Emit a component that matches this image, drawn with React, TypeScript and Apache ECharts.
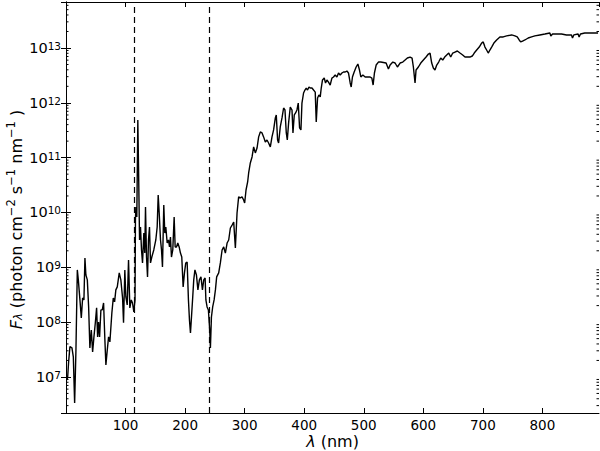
import React, { useEffect, useRef } from 'react';
import * as echarts from 'echarts';

// Wavelength (nm)
const wavelength = [
  1.6, 2.8, 4.4, 6.6, 10.0, 12.3, 14.5, 16.7, 19.0, 20.7, 23.4, 25.7, 27.9, 30.1, 31.8, 33.4, 35.8, 38.0, 40.1, 42.5,
  44.7, 46.9, 49.2, 51.4, 53.1, 54.7, 56.4, 58.6, 60.9, 63.1, 65.3, 67.0, 69.3, 71.5, 73.7, 77.0, 79.4, 81.6, 83.7, 86.1,
  89.4, 92.1, 95.0, 96.6, 98.8, 100.5, 102.8, 105.0, 107.2, 109.6, 111.7, 113.9, 115.9, 116.6, 117.3, 118.9, 120.6, 121.8, 123.5, 125.1,
  126.8, 128.5, 130.7, 132.3, 133.5, 135.2, 136.9, 138.5, 140.2, 141.9, 144.1, 147.4, 150.8, 153.1, 154.8, 156.5, 158.7, 160.4, 162.0, 164.2,
  165.9, 167.6, 169.9, 172.1, 173.8, 175.4, 177.1, 179.3, 181.6, 183.3, 185.5, 187.7, 190.0, 192.2, 194.4, 196.7, 198.9, 201.1, 203.4, 205.6,
  207.3, 209.0, 210.6, 212.8, 214.5, 216.5, 219.0, 221.5, 224.0, 226.6, 229.1, 231.3, 233.6, 234.9, 236.9, 239.1, 241.3, 242.5, 244.2, 246.3,
  248.7, 250.9, 253.0, 256.4, 259.2, 262.1, 264.8, 267.6, 270.5, 273.2, 276.0, 278.9, 281.6, 284.4, 287.2, 289.9, 292.8, 295.6, 298.3, 300.0,
  302.3, 305.0, 306.7, 309.5, 312.4, 315.1, 317.9, 320.8, 323.5, 326.3, 329.2, 331.8, 334.7, 337.5, 340.2, 343.1, 345.9, 348.6, 351.5, 353.1,
  355.3, 357.0, 359.8, 362.7, 365.4, 367.7, 369.9, 371.6, 373.8, 376.6, 379.5, 381.1, 383.3, 385.5, 387.8, 390.0, 392.2, 394.5, 396.2, 398.9,
  401.2, 403.4, 405.6, 408.0, 410.1, 413.0, 415.7, 418.5, 420.2, 422.4, 424.7, 426.9, 428.6, 430.7, 433.6, 435.8, 438.1, 440.8, 443.6, 446.5,
  449.2, 452.0, 454.9, 457.6, 460.4, 463.3, 466.0, 468.8, 471.7, 474.3, 477.2, 478.9, 481.0, 483.9, 487.2, 490.1, 492.8, 495.1, 498.5, 502.3,
  506.2, 510.7, 513.6, 515.7, 517.9, 520.8, 524.6, 528.6, 533.0, 537.5, 541.4, 544.2, 548.8, 552.6, 556.5, 561.0, 565.5, 569.4, 573.2, 577.8,
  581.1, 583.3, 586.1, 587.8, 591.7, 595.7, 600.1, 604.6, 608.5, 611.3, 614.1, 616.8, 619.6, 622.5, 625.8, 629.2, 632.6, 635.9, 639.3, 642.7,
  646.0, 649.4, 653.2, 657.1, 661.6, 666.1, 670.0, 673.8, 678.3, 682.2, 685.5, 689.6, 693.9, 697.9, 700.6, 703.5, 706.3, 709.0, 711.8, 714.7,
  718.5, 723.1, 728.6, 734.2, 739.9, 748.3, 753.8, 757.7, 761.0, 763.4, 766.7, 770.6, 776.1, 781.8, 787.3, 795.7, 804.1, 812.5, 814.1, 817.0,
  823.7, 832.1, 840.4, 848.8, 850.5, 852.7, 859.9, 861.6, 863.9, 871.1, 879.5, 887.9, 893.4,
];

// Flux F_lambda (photon cm^-2 s^-1 nm^-1)
const flux = [
  8.8e6, 1.0e7, 1.88e7, 3.57e7, 3.38e7, 2.32e7, 3.36e6, 3.1e7, 8.95e8, 5.9e8, 2.54e8, 1.19e8, 2.76e8, 2.54e8, 1.48e9, 7.26e8, 5.9e8, 1.89e8, 3.38e7, 7.2e7,
  2.86e7, 5.37e7, 9.66e7, 1.82e8, 5.37e7, 1.0e8, 5.37e7, 1.67e8, 1.67e8, 2.24e8, 4.73e7, 1.66e7, 3.1e7, 5.37e7, 4.35e7, 1.47e8, 2.76e8, 2.34e8, 3.87e8, 4.39e8,
  7.89e8, 5.9e8, 2.76e8, 9.7e7, 8.95e8, 2.88e8, 2.06e8, 1.36e9, 1.82e8, 2.54e8, 2.24e8, 1.53e8, 2.54e8, 7.3e9, 1.26e10, 8.27e9, 4.87e11, 6.76e10, 3.15e9, 5.43e9,
  2.07e9, 1.2e9, 4.22e9, 1.82e9, 1.26e10, 1.54e9, 6.67e8, 3.15e9, 5.43e9, 1.2e9, 1.54e9, 2.07e9, 3.15e9, 5.43e9, 2.08e10, 9.78e9, 3.15e9, 2.07e9, 1.01e9, 1.37e10,
  4.22e9, 5.43e9, 2.77e9, 3.15e9, 2.35e9, 3.57e9, 1.54e9, 2.07e9, 8.27e9, 2.35e9, 2.35e9, 2.77e9, 2.35e9, 1.82e9, 1.54e9, 4.39e8, 7.89e8, 1.2e9, 1.25e9, 2.54e8,
  1.1e8, 6.35e7, 1.19e8, 2.88e8, 5.9e8, 8.95e8, 7.26e8, 3.87e8, 5.9e8, 6.67e8, 3.87e8, 5.9e8, 6.4e8, 2.54e8, 1.89e8, 1.67e8, 7.2e7, 3.38e7, 1.24e8, 1.89e8,
  2.54e8, 3.87e8, 6.67e8, 7.89e8, 1.2e9, 2.07e9, 2.35e9, 1.82e9, 2.77e9, 3.15e9, 5.21e9, 5.9e9, 6.7e9, 2.25e9, 9.78e9, 1.92e10, 1.84e10, 1.92e10, 1.69e10, 1.49e10,
  2.57e10, 3.6e10, 5.25e10, 8.0e10, 1.03e11, 1.57e11, 1.22e11, 1.5e11, 2.39e11, 2.94e11, 2.82e11, 2.39e11, 1.93e11, 2.1e11, 1.85e11, 1.57e11, 2.39e11, 3.2e11, 5.3e11, 6.01e11,
  2.1e11, 1.85e11, 3.63e11, 5.3e11, 8.04e11, 7.4e11, 2.82e11, 2.1e11, 4.3e11, 8.39e11, 7.4e11, 2.82e11, 6.01e11, 6.53e11, 7.4e11, 9.9e11, 3.48e11, 3.2e11, 9.9e11, 1.51e12,
  1.71e12, 1.86e12, 1.71e12, 1.94e12, 1.86e12, 1.86e12, 1.71e12, 1.57e12, 4.48e11, 1.22e12, 1.39e12, 1.28e12, 1.86e12, 2.61e12, 2.83e12, 2.3e12, 2.61e12, 2.39e12, 2.11e12, 2.83e12,
  2.96e12, 3.21e12, 2.96e12, 3.5e12, 3.21e12, 3.5e12, 3.65e12, 3.65e12, 3.8e12, 3.5e12, 2.3e12, 1.94e12, 2.96e12, 3.65e12, 4.5e12, 5.1e12, 3.96e12, 2.96e12, 3.21e12, 2.96e12,
  2.96e12, 2.96e12, 2.83e12, 2.11e12, 3.5e12, 4.89e12, 5.54e12, 5.54e12, 5.43e12, 5.32e12, 4.13e12, 4.89e12, 5.54e12, 5.32e12, 4.5e12, 5.32e12, 5.54e12, 6.04e12, 6.56e12, 6.84e12,
  6.56e12, 4.5e12, 2.3e12, 3.96e12, 4.5e12, 5.32e12, 6.04e12, 6.84e12, 7.76e12, 8.09e12, 5.32e12, 4.32e12, 3.96e12, 4.89e12, 5.54e12, 6.56e12, 6.04e12, 6.84e12, 7.45e12, 8.09e12,
  6.84e12, 8.09e12, 8.44e12, 8.81e12, 8.09e12, 7.45e12, 6.84e12, 6.84e12, 6.84e12, 7.14e12, 8.09e12, 9.18e12, 1.04e13, 1.23e13, 1.29e13, 1.04e13, 9.18e12, 8.09e12, 9.18e12, 1.04e13,
  1.23e13, 1.4e13, 1.59e13, 1.59e13, 1.66e13, 1.73e13, 1.66e13, 1.59e13, 1.4e13, 1.29e13, 1.34e13, 1.4e13, 1.52e13, 1.59e13, 1.66e13, 1.73e13, 1.8e13, 1.88e13, 1.66e13, 1.8e13,
  1.8e13, 1.8e13, 1.73e13, 1.73e13, 1.52e13, 1.73e13, 1.8e13, 1.59e13, 1.8e13, 1.88e13, 1.88e13, 1.88e13, 1.88e13,
];

// Vertical dashed marker lines (nm)
const markerWavelengths = [115, 240];

const X_MIN = 0;
const X_MAX = 895;
const X_INTERVAL = 100;
const Y_MIN = 2.2e6;
const Y_MAX = 6.9e13;

const FONT = 'DejaVu Sans';

export default function App() {
  const ref = useRef<HTMLDivElement>(null);

  useEffect(() => {
    document.body.style.margin = '0';
    if (!ref.current) return;
    const chart = echarts.init(ref.current, undefined, { renderer: 'svg' });

    const lineData = wavelength.map((w, i) => [w, flux[i]]);

    // log-scale minor tick positions (2..9 x 10^n)
    const minorVals: number[][] = [];
    for (let n = 6; n <= 13; n++) {
      for (let k = 2; k <= 9; k++) {
        const v = k * Math.pow(10, n);
        if (v > Y_MIN && v < Y_MAX) minorVals.push([X_MIN, v]);
      }
    }

    const tickRich = {
      b: { fontSize: 14.5, fontFamily: FONT, color: '#000', lineHeight: 15, padding: [5, 0, 0, 0], verticalAlign: 'bottom' },
      s: { fontSize: 10.5, fontFamily: FONT, color: '#000', lineHeight: 11, verticalAlign: 'top' },
    };

    const nameRich = {
      n: { fontSize: 16, fontFamily: FONT, color: '#000', lineHeight: 19, padding: [4, 0, 0, 0], verticalAlign: 'bottom' },
      i: { fontSize: 16, fontFamily: FONT, fontStyle: 'italic', color: '#000', lineHeight: 19, padding: [4, 0, 0, 0], verticalAlign: 'bottom' },
      sup: { fontSize: 11.5, fontFamily: FONT, color: '#000', lineHeight: 12, verticalAlign: 'top' },
      sub: { fontSize: 11.5, fontFamily: FONT, fontStyle: 'italic', color: '#000', lineHeight: 12, verticalAlign: 'bottom' },
    };

    const xNameRich = {
      n: { fontSize: 16, fontFamily: FONT, color: '#000', lineHeight: 16 },
      i: { fontSize: 16, fontFamily: FONT, fontStyle: 'italic', color: '#000', lineHeight: 16 },
    };

    const axisLine = { show: true, lineStyle: { color: '#000', width: 1 } };

    chart.setOption({
      animation: false,
      backgroundColor: '#fff',
      grid: { left: 66, right: 1, top: 2, bottom: 38, containLabel: false, outerBoundsMode: 'none' },
      xAxis: [
        {
          type: 'value',
          min: X_MIN,
          max: X_MAX,
          interval: X_INTERVAL,
          position: 'bottom',
          axisLine,
          axisTick: { show: true, inside: true, length: 5, lineStyle: { color: '#000' } },
          splitLine: { show: false },
          axisLabel: {
            show: true,
            showMinLabel: false,
            showMaxLabel: false,
            margin: 4,
            color: '#000',
            fontFamily: FONT,
            fontSize: 13.5,
            lineHeight: 15,
          },
          name: '{i|λ}{n| (nm)}',
          nameLocation: 'middle',
          nameGap: 20,
          nameMoveOverlap: false,
          nameTextStyle: { rich: xNameRich, verticalAlign: 'top', fontSize: 16, lineHeight: 16 },
        },
        {
          type: 'value',
          min: X_MIN,
          max: X_MAX,
          interval: X_INTERVAL,
          position: 'top',
          axisLine,
          axisTick: { show: true, inside: true, length: 5, lineStyle: { color: '#000' } },
          splitLine: { show: false },
          axisLabel: { show: false },
        },
      ],
      yAxis: [
        {
          type: 'log',
          min: Y_MIN,
          max: Y_MAX,
          position: 'left',
          axisLine,
          axisTick: { show: true, inside: true, length: 5, lineStyle: { color: '#000' } },
          splitLine: { show: false },
          minorTick: { show: false },
          axisLabel: {
            show: true,
            showMinLabel: false,
            showMaxLabel: false,
            margin: 5,
            formatter: (v: number) => {
              const e = Math.log10(v);
              const r = Math.round(e);
              if (Math.abs(e - r) > 1e-6) return '';
              return `{b|10}{s|${r}}`;
            },
            rich: tickRich,
          },
          name: '{i|F}{sub|λ}{n| (photon cm}{sup|−2}{n| s}{sup|−1}{n| nm}{sup|−1}{n| )}',
          nameLocation: 'middle',
          nameGap: 42,
          nameRotate: 90,
          nameMoveOverlap: false,
          nameTextStyle: { rich: nameRich, fontSize: 16, padding: [0, 24, 0, 0] },
        },
        {
          type: 'log',
          min: Y_MIN,
          max: Y_MAX,
          position: 'right',
          axisLine,
          axisTick: { show: true, inside: true, length: 5, lineStyle: { color: '#000' } },
          splitLine: { show: false },
          axisLabel: { show: false },
        },
      ],
      series: [
        {
          type: 'line',
          xAxisIndex: 0,
          yAxisIndex: 0,
          data: lineData,
          showSymbol: false,
          symbol: 'none',
          lineStyle: { color: '#000', width: 1.4 },
          clip: true,
          markLine: {
            silent: true,
            symbol: 'none',
            label: { show: false },
            lineStyle: { color: '#000', width: 1.2, type: [6, 4] },
            data: markerWavelengths.map((w) => ({ xAxis: w })),
          },
        },
        {
          type: 'custom',
          xAxisIndex: 0,
          yAxisIndex: 0,
          silent: true,
          data: minorVals,
          renderItem: (params: any, api: any) => {
            const v = api.value(1);
            const pl = api.coord([X_MIN, v]);
            const pr = api.coord([X_MAX, v]);
            return {
              type: 'group',
              children: [
                { type: 'line', shape: { x1: pl[0], y1: pl[1], x2: pl[0] + 2.5, y2: pl[1] }, style: { stroke: '#000', lineWidth: 1 } },
                { type: 'line', shape: { x1: pr[0], y1: pr[1], x2: pr[0] - 2.5, y2: pr[1] }, style: { stroke: '#000', lineWidth: 1 } },
              ],
            };
          },
        },
      ],
    });

    return () => chart.dispose();
  }, []);

  return <div ref={ref} style={{ width: 600, height: 451 }} />;
}
